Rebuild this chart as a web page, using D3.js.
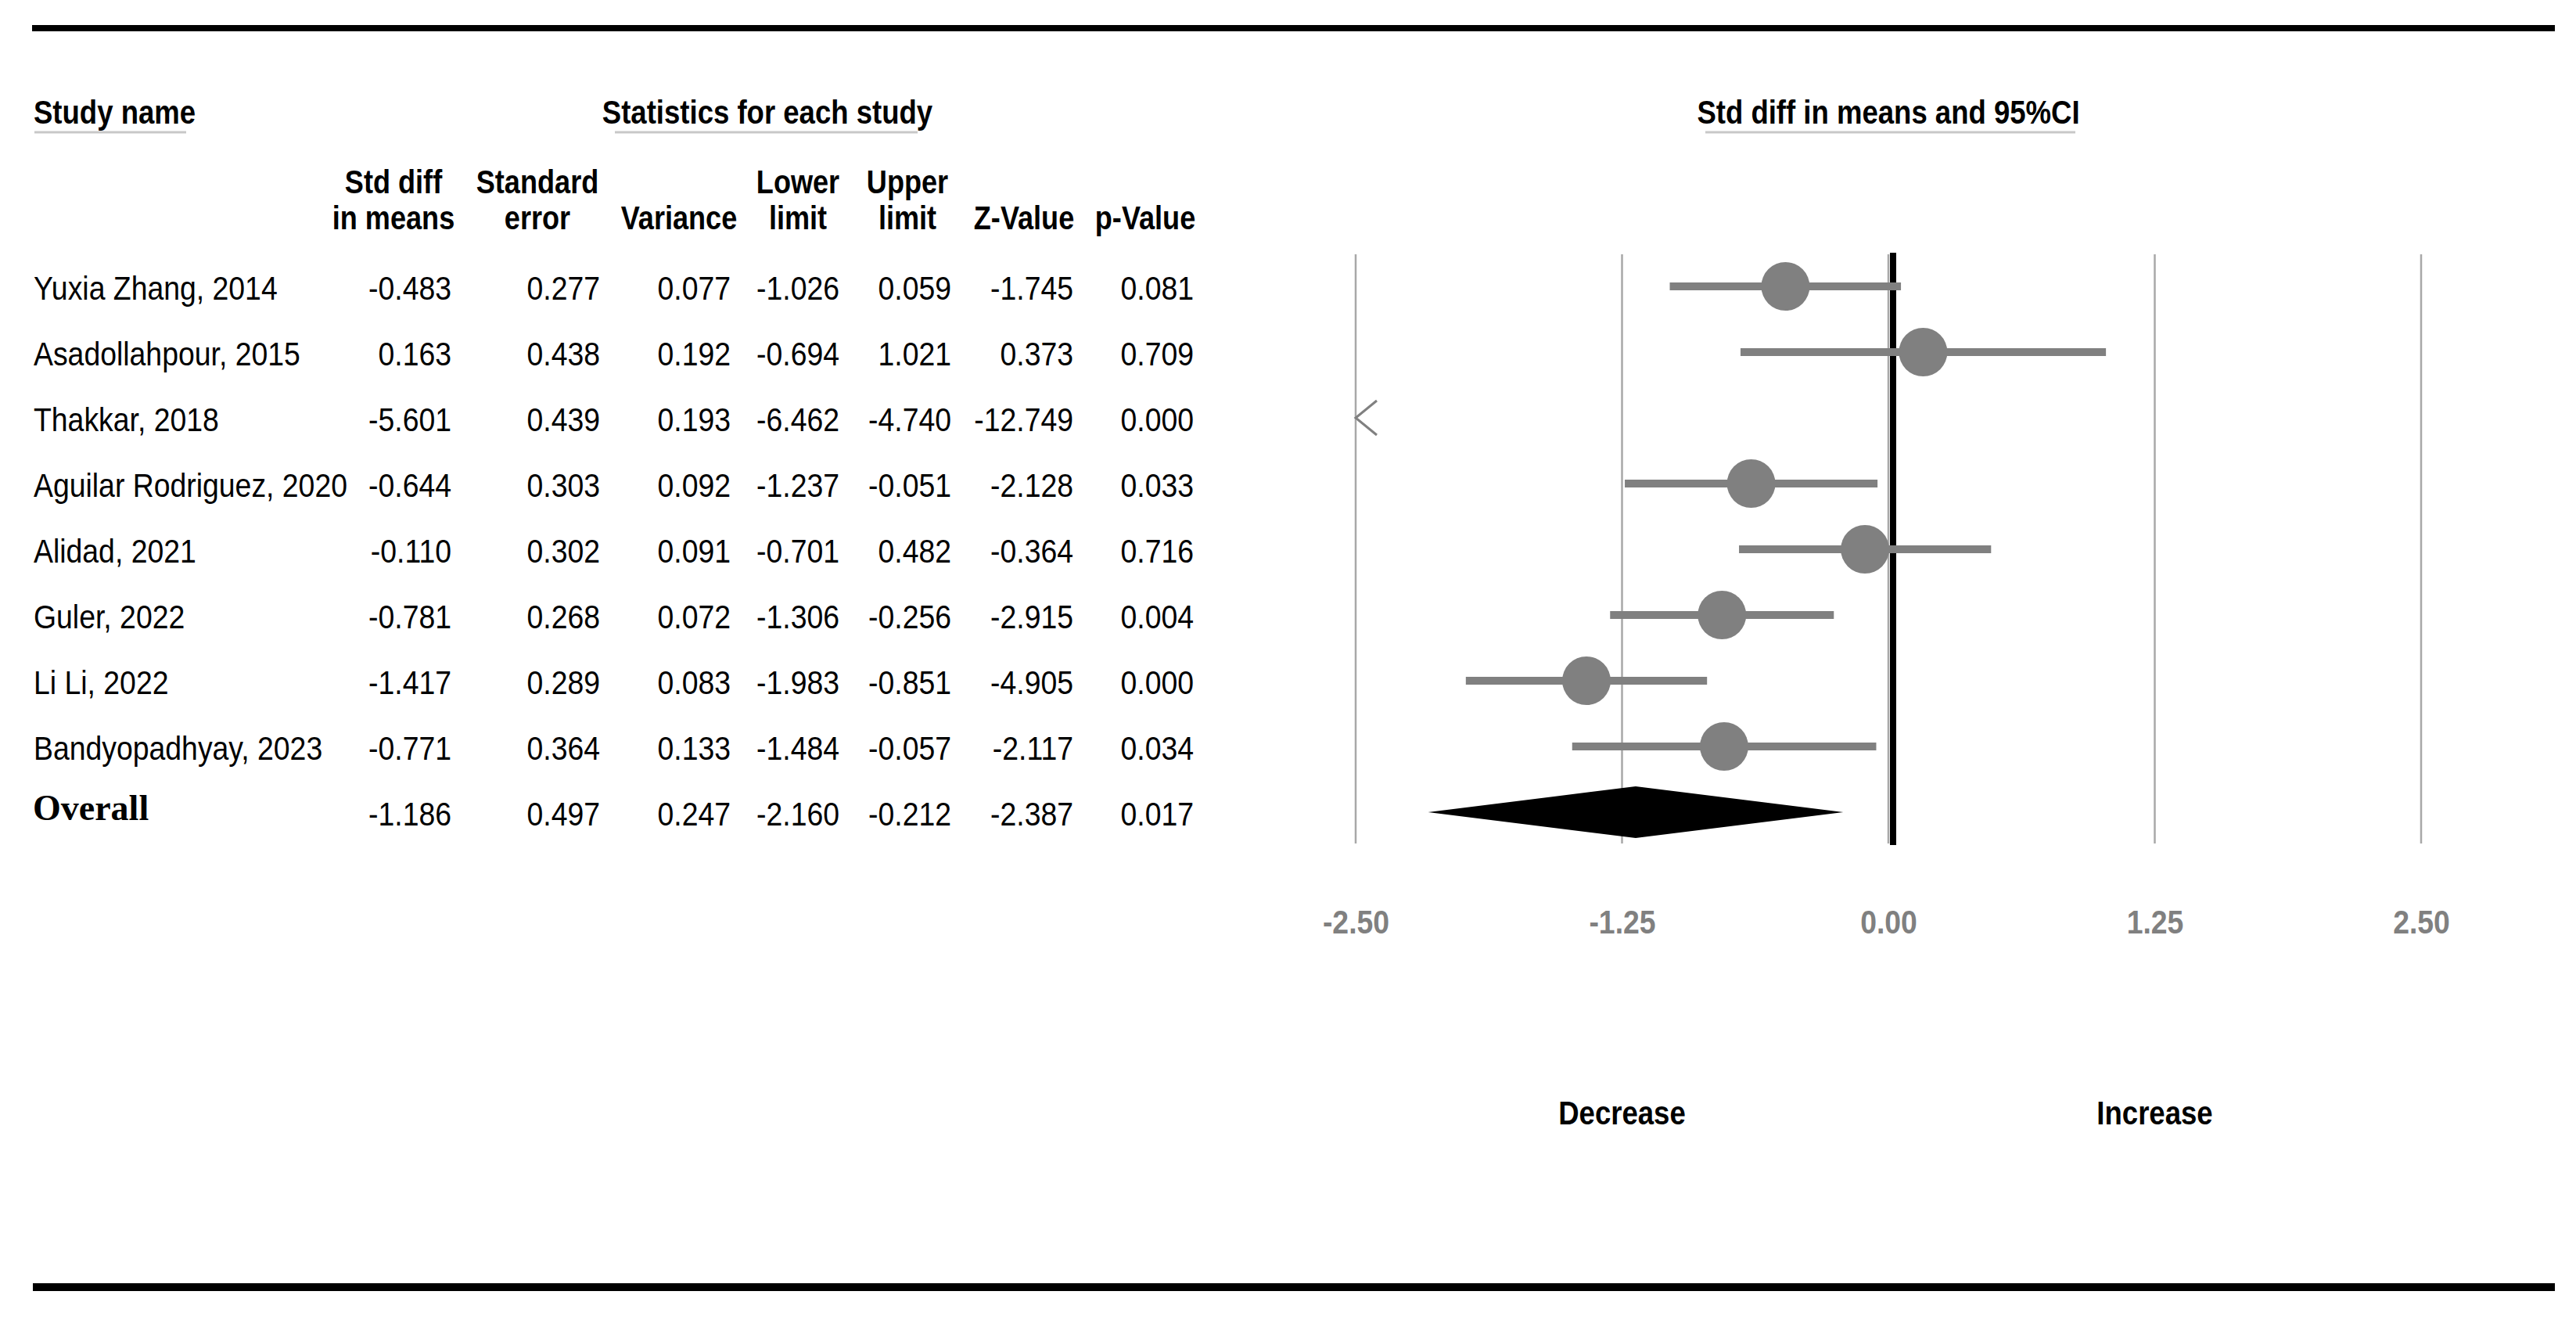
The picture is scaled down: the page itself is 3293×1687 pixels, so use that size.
<!DOCTYPE html>
<html>
<head>
<meta charset="utf-8">
<script src="https://cdn.jsdelivr.net/npm/d3@7"></script>
<style>
  body { margin: 0; background: #fff; }
  svg { display: block; }
</style>
</head>
<body>
<div id="chart"></div>
<script>
// study table values
const studies = [
  'Yuxia Zhang, 2014', 'Asadollahpour, 2015', 'Thakkar, 2018', 'Aguilar Rodriguez, 2020',
  'Alidad, 2021', 'Guler, 2022', 'Li Li, 2022', 'Bandyopadhyay, 2023'
];
const stdDiff  = [-0.483, 0.163, -5.601, -0.644, -0.110, -0.781, -1.417, -0.771];
const stdErr   = [0.277, 0.438, 0.439, 0.303, 0.302, 0.268, 0.289, 0.364];
const variance = [0.077, 0.192, 0.193, 0.092, 0.091, 0.072, 0.083, 0.133];
const lower    = [-1.026, -0.694, -6.462, -1.237, -0.701, -1.306, -1.983, -1.484];
const upper    = [0.059, 1.021, -4.740, -0.051, 0.482, -0.256, -0.851, -0.057];
const zValue   = [-1.745, 0.373, -12.749, -2.128, -0.364, -2.915, -4.905, -2.117];
const pValue   = [0.081, 0.709, 0.000, 0.033, 0.716, 0.004, 0.000, 0.034];

// overall: std diff, se, variance, lower, upper, z, p
const overallStats = [-1.186, 0.497, 0.247, -2.160, -0.212, -2.387, 0.017];

const headTop = ['Std diff', 'Standard', '', 'Lower', 'Upper', '', ''];
const headBottom = ['in means', 'error', 'Variance', 'limit', 'limit', 'Z-Value', 'p-Value'];
const axisTicks = [-2.5, -1.25, 0, 1.25, 2.5];

// layout
const W = 3293, H = 1687;
const sans = '"Liberation Sans", Arial, sans-serif';
const squeeze = 0.89;
const colRight = [577, 767, 934, 1073, 1216, 1372, 1526];
const headCenter = [503, 687, 868, 1020, 1160, 1309, 1464];
const grey = '#808080';

const fmt = d3.formatLocale({ decimal: '.', thousands: ',', grouping: [3], currency: ['', ''], minus: '-' });
const f3 = fmt.format('.3f');
const f2 = fmt.format('.2f');

const svg = d3.select('#chart').append('svg')
  .attr('width', W)
  .attr('height', H);

svg.append('rect').attr('width', W).attr('height', H).attr('fill', '#fff');

function label(x, y, str, anchor, weight, size, sx) {
  return svg.append('text')
    .attr('transform', 'translate(' + x + ',' + y + ') scale(' + sx + ',1)')
    .attr('text-anchor', anchor)
    .style('font-family', sans)
    .style('font-weight', weight)
    .style('font-size', size + 'px')
    .attr('fill', '#000')
    .text(str);
}

// rules top and bottom
svg.append('line').attr('x1', 41).attr('x2', 3266).attr('y1', 36).attr('y2', 36)
  .attr('stroke', '#000').attr('stroke-width', 8);
svg.append('line').attr('x1', 42).attr('x2', 3266).attr('y1', 1645).attr('y2', 1645)
  .attr('stroke', '#000').attr('stroke-width', 10);

// rows
const y = d3.scaleLinear().domain([0, 8]).range([366, 1038]);
const x = d3.scaleLinear().domain([-2.5, 2.5]).range([1733, 3095]);

// section headings with underlines
const headings = [
  { text: 'Study name', x: 43, anchor: 'start', u: [44, 238] },
  { text: 'Statistics for each study', x: 981, anchor: 'middle', u: [786, 1173] },
  { text: 'Std diff in means and 95%CI', x: x(0), anchor: 'middle', u: [2180, 2653] }
];
headings.forEach((h) => {
  label(h.x, 158, h.text, h.anchor, 'bold', 42, 0.87);
  svg.append('line').attr('x1', h.u[0]).attr('x2', h.u[1]).attr('y1', 169).attr('y2', 169)
    .attr('stroke', '#c8c8c8').attr('stroke-width', 3);
});

// column headings
headTop.forEach((t, i) => {
  if (t) label(headCenter[i], 247, t, 'middle', 'bold', 42, 0.86);
  label(headCenter[i], 293, headBottom[i], 'middle', 'bold', 42, 0.86);
});

// table body
const cols = [stdDiff, stdErr, variance, lower, upper, zValue, pValue];
studies.forEach((name, i) => {
  const base = y(i) + 17;
  label(43, base, name, 'start', 'normal', 42, squeeze);
  cols.forEach((c, j) => {
    label(colRight[j], base, f3(c[i]), 'end', 'normal', 42, squeeze);
  });
});

svg.append('text')
  .attr('x', 42)
  .attr('y', y(8) + 10)
  .style('font-family', '"Liberation Serif", "Times New Roman", serif')
  .style('font-weight', 'bold')
  .style('font-size', '46px')
  .text('Overall');
overallStats.forEach((v, j) => {
  label(colRight[j], y(8) + 17, f3(v), 'end', 'normal', 42, squeeze);
});

// forest plot grid
const gridTop = 325, gridBottom = 1078;
svg.append('g').selectAll('line')
  .data(axisTicks)
  .enter().append('line')
    .attr('x1', (d) => x(d)).attr('x2', (d) => x(d))
    .attr('y1', gridTop).attr('y2', gridBottom)
    .attr('stroke', '#a8a8a8')
    .attr('stroke-width', 2.5);

// axis labels
const axis = d3.axisBottom(x)
  .tickValues(axisTicks)
  .tickFormat(f2)
  .tickSize(0)
  .tickPadding(0);

const axisG = svg.append('g')
  .attr('transform', 'translate(0,1193)')
  .call(axis);
axisG.select('.domain').remove();
axisG.selectAll('text')
  .attr('y', 0)
  .attr('dy', 0)
  .attr('transform', 'scale(0.89,1)')
  .style('font-family', sans)
  .style('font-weight', 'bold')
  .style('font-size', '42px')
  .attr('fill', grey);

// no-effect line
svg.append('line')
  .attr('x1', x(0) + 6).attr('x2', x(0) + 6)
  .attr('y1', 323).attr('y2', 1080)
  .attr('stroke', '#000')
  .attr('stroke-width', 8);

// study markers
const lo = x.domain()[0], hi = x.domain()[1];
studies.forEach((name, i) => {
  const yy = y(i);
  if (upper[i] < lo) {
    // off the scale to the left
    svg.append('path')
      .attr('d', 'M' + (x(lo) + 27) + ',' + (yy - 22) + 'L' + x(lo) + ',' + yy + 'L' + (x(lo) + 27) + ',' + (yy + 22))
      .attr('fill', 'none')
      .attr('stroke', grey)
      .attr('stroke-width', 3);
    return;
  }
  svg.append('line')
    .attr('x1', x(Math.max(lower[i], lo)))
    .attr('x2', x(Math.min(upper[i], hi)))
    .attr('y1', yy).attr('y2', yy)
    .attr('stroke', grey)
    .attr('stroke-width', 10);
  svg.append('circle')
    .attr('cx', x(stdDiff[i]))
    .attr('cy', yy)
    .attr('r', 31)
    .attr('fill', grey);
});

// overall diamond
const oy = y(8);
svg.append('path')
  .attr('d', 'M' + x(overallStats[3]) + ',' + oy +
             'L' + x(overallStats[0]) + ',' + (oy - 33) +
             'L' + x(overallStats[4]) + ',' + oy +
             'L' + x(overallStats[0]) + ',' + (oy + 33) + 'Z')
  .attr('fill', '#000');

// direction labels
label(x(-1.25), 1437, 'Decrease', 'middle', 'bold', 42, 0.87);
label(x(1.25), 1437, 'Increase', 'middle', 'bold', 42, 0.87);
</script>
</body>
</html>
